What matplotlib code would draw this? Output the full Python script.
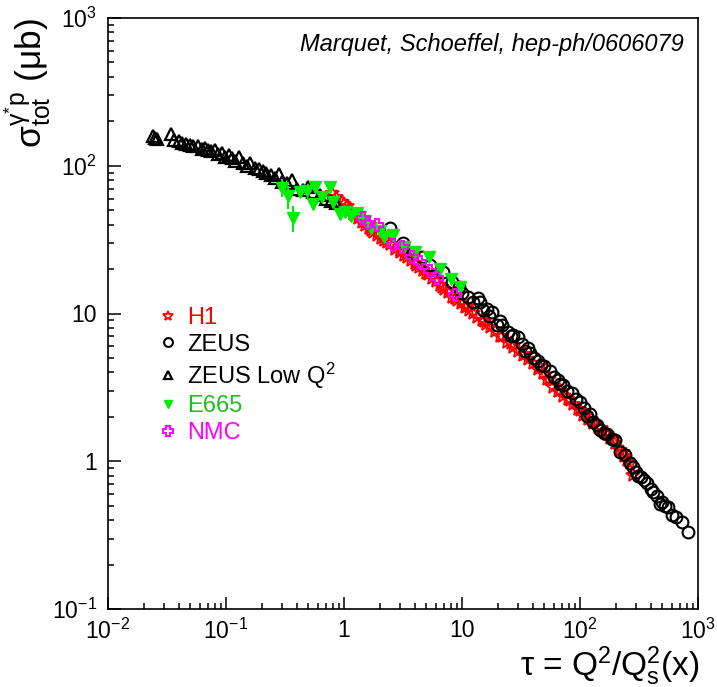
import math
import matplotlib
matplotlib.use("Agg")
import matplotlib.pyplot as plt
from matplotlib.ticker import FixedLocator, FuncFormatter, LogLocator, NullFormatter

plt.rcParams['font.family'] = ['Liberation Sans', 'DejaVu Sans']
plt.rcParams['mathtext.fontset'] = 'custom'
plt.rcParams['mathtext.rm'] = 'Liberation Sans'
plt.rcParams['mathtext.it'] = 'Liberation Sans:italic'
plt.rcParams['mathtext.bf'] = 'Liberation Sans:bold'
plt.rcParams['mathtext.sf'] = 'Liberation Sans'

# ---------------- data ----------------
h1_tau = [0.79, 0.85, 0.96, 1.0, 1.05, 1.12, 1.2, 1.32, 1.42, 1.51, 1.62, 1.7, 1.76, 1.9, 2.05,
          2.2, 2.31, 2.45, 2.7, 2.98, 3.0, 3.2, 3.42, 3.7, 4.0, 4.1, 4.3, 4.67, 5.0, 5.2, 5.57,
          6.0, 6.5, 6.8, 7.0, 7.6, 8.3, 8.8, 9.1, 9.8, 10.6, 11.0, 11.5, 12.4, 13.5, 14.8,
          15.5, 16.0, 17.3, 19.0, 21.0, 22.0, 24.0, 26.0, 27.0, 30.0, 33.0, 34.0, 36.0, 40.0,
          44.0, 45.0, 48.6, 53.0, 55.0, 59.0, 65.0, 68.0, 72.0, 79.0, 83.0, 87.0, 96.0, 100.0,
          106.0, 117.0, 125.0, 129.0, 142.0, 150.0, 157.0, 168.0, 180.0, 190.0, 198.0, 218.0,
          230.0, 235.0, 250.0, 265.0, 281.0]
h1_sig = [65, 61, 57, 55, 53, 50, 47.5, 44, 41.5, 39.5, 38, 37, 35.5, 34, 32.5,
          31.5, 30.5, 29.5, 27.5, 26, 27, 25, 24, 23, 21.8, 21.3, 20.5, 19.6, 18.7, 18.5, 17.4,
          16.5, 15.6, 15.2, 14.7, 13.9, 13.0, 12.8, 12.3, 11.7, 11.1, 11.2, 10.6, 10.1, 9.5, 9.0,
          8.9, 8.5, 8.1, 7.6, 7.05, 7.0, 6.4, 6.3, 5.9, 5.55, 5.25, 5.3, 4.9, 4.6,
          4.2, 4.4, 3.95, 3.6, 3.6, 3.2, 3.0, 3.05, 2.78, 2.62, 2.6, 2.45, 2.25, 2.24,
          2.05, 1.92, 1.93, 1.82, 1.7, 1.69, 1.6, 1.52, 1.43, 1.41, 1.32, 1.2,
          1.15, 1.09, 1.02, 0.97, 0.81]

zeus_tau = [2.45, 3.16, 3.84, 4.58, 5.36, 6.9, 8.2, 9.5, 10.0, 11.2, 12.5, 13.7, 14.2, 15.0,
            16.3, 17.0, 18.0, 19.8, 21.0, 22.0, 24.5, 26.0, 27.0, 29.9, 32.0, 34.2, 36.0, 38.0,
            41.0, 44.0, 47.0, 50.0, 55.7, 60.0, 65.0, 68.0, 72.0, 78.0, 85.5, 92.0, 100.0,
            108.0, 115.0, 122.0, 130.0, 140.0, 148.0, 160.0, 169.0, 185.0, 198.0, 218.0, 240.0,
            265.0, 281.0, 300.0, 310.0, 330.0, 350.0, 370.0, 400.0, 416.0, 450.0, 477.0, 500.0,
            525.0, 560.0, 602.0, 650.0, 731.0, 822.0]
zeus_sig = [38, 30, 25.8, 24.3, 21.4, 19.2, 16.4, 15.0, 13.8, 13.0, 12.0, 12.8, 11.9, 10.5,
            10.8, 9.6, 10.2, 8.4, 8.9, 8.3, 7.45, 7.0, 7.2, 6.9, 6.2, 5.6, 5.8, 5.4,
            5.0, 4.74, 4.5, 4.4, 4.06, 3.7, 3.52, 3.35, 3.3, 3.0, 2.88, 2.65, 2.51,
            2.3, 2.01, 2.1, 1.85, 1.75, 1.64, 1.55, 1.52, 1.42, 1.39, 1.15, 1.1,
            0.98, 0.91, 0.85, 0.79, 0.78, 0.75, 0.71, 0.65, 0.62, 0.58, 0.51, 0.53,
            0.50, 0.49, 0.43, 0.42, 0.39, 0.33]

zlow_tau = [0.024, 0.025, 0.026, 0.034, 0.036, 0.040, 0.042, 0.046, 0.050, 0.053, 0.058, 0.062,
            0.066, 0.070, 0.075, 0.080, 0.086, 0.092, 0.098, 0.105, 0.112, 0.120, 0.128, 0.138,
            0.150, 0.160, 0.175, 0.19, 0.205, 0.22, 0.24, 0.26, 0.28, 0.30, 0.33, 0.36, 0.40,
            0.45, 0.50, 0.55, 0.62, 0.70, 0.78, 0.85]
zlow_sig = [160, 155, 152, 165, 150, 148, 142, 140, 138, 135, 137, 130,
            132, 128, 125, 128, 120, 122, 115, 118, 112, 108, 115, 104,
            100, 104, 97, 95, 92, 90, 86, 82, 88, 78, 76, 80, 70,
            68, 72, 66, 63, 60, 58, 56]

e665_tau = [0.30, 0.335, 0.37, 0.42, 0.49, 0.55, 0.57, 0.65, 0.76, 0.81, 0.92, 1.02, 1.15,
            1.29, 1.36, 1.5, 1.7, 2.0, 2.2, 2.6, 3.2, 4.0, 5.3, 6.5, 8.0, 9.7]
e665_sig = [71, 62, 44.6, 66, 67, 55, 72, 61, 72, 57, 47, 49, 46,
            48, 45, 42, 38, 36, 33, 34, 28, 26, 24, 20, 17, 15]
e665_err = [10, 11, 9, 4, 4, 3, 4, 3, 3, 3, 2, 2, 2,
            2, 2, 1.5, 1.5, 1.5, 1.5, 1.5, 1, 1, 1, 1, 0.8, 0.8]

nmc_tau = [1.45, 1.6, 1.9, 2.6, 3.1, 3.8, 4.4, 5.4, 6.1, 8.7]
nmc_sig = [44, 41, 40, 29, 28, 24, 22.4, 19.5, 17.5, 13.4]

x_major = [1e-2, 1e-1, 1, 10, 1e2, 1e3]
y_major = [1e-1, 1, 10, 1e2, 1e3]

# ---------------- figure ----------------
fig = plt.figure(figsize=(7.17, 6.87), dpi=100)
ax = fig.add_axes([108/717, 1-609/687, 590/717, 591/687])
ax.set_xscale('log')
ax.set_yscale('log')
ax.set_xlim(1e-2, 1e3)
ax.set_ylim(1e-1, 1e3)

RED = '#ff0000'
GREEN = '#00ee00'
MAG = '#ff00ff'

ax.plot(h1_tau, h1_sig, ls='none', marker='*', ms=10, mfc='none', mec=RED, mew=1.3,
        label='H1', zorder=3)
ax.plot(zeus_tau, zeus_sig, ls='none', marker='o', ms=8.5, mfc='none', mec='black', mew=1.5,
        label='ZEUS', zorder=4)
ax.plot(zlow_tau, zlow_sig, ls='none', marker='^', ms=8.5, mfc='none', mec='black', mew=1.6,
        label='ZEUS Low Q$^{2}$', zorder=4)
ax.errorbar(e665_tau, e665_sig, yerr=e665_err, fmt='none', ecolor=GREEN, elinewidth=1.5,
            capsize=0, zorder=5)
ax.plot(e665_tau, e665_sig, ls='none', marker='v', ms=8.5, mfc=GREEN, mec=GREEN,
        label='E665', zorder=5)
ax.plot(nmc_tau, nmc_sig, ls='none', marker='P', ms=9, mfc='none', mec=MAG, mew=1.4,
        label='NMC', zorder=6)

# ticks
def fmt(v, pos):
    if abs(v - 1) < 1e-9:
        return '1'
    if abs(v - 10) < 1e-9:
        return '10'
    e = int(round(math.log10(v)))
    return r'$\mathregular{10^{%d}}$' % e

for axis, majors in ((ax.xaxis, x_major), (ax.yaxis, y_major)):
    axis.set_major_locator(FixedLocator(majors))
    axis.set_minor_locator(LogLocator(base=10, subs=range(2, 10), numticks=20))
    axis.set_major_formatter(FuncFormatter(fmt))
    axis.set_minor_formatter(NullFormatter())

ax.tick_params(which='both', direction='in', top=False, right=False, width=1.1,
               labelsize=16.5, colors='black')
ax.tick_params(which='major', length=9)
ax.tick_params(which='minor', length=4.5)
ax.tick_params(axis='y', pad=8)
ax.tick_params(axis='x', pad=7)
for s in ax.spines.values():
    s.set_linewidth(1.2)

ax.set_ylabel(r'σ$^{\mathrm{γ^{*}p}}_{\mathrm{tot}}$ (μb)', fontsize=25.5, loc='top')
ax.yaxis.set_label_coords(-0.093, 1.0)
ax.set_xlabel(r'τ = Q$^{2}$/Q$^{2}_{\mathrm{s}}$(x)', fontsize=24, loc='right')
ax.xaxis.set_label_coords(1.003, -0.06)

ax.text(0.975, 0.975, 'Marquet, Schoeffel, hep-ph/0606079', transform=ax.transAxes,
        ha='right', va='top', fontsize=17, style='italic')

leg = ax.legend(loc='upper left', bbox_to_anchor=(0.086, 0.511), frameon=False,
                fontsize=17, handlelength=0.8, handletextpad=0.4, labelspacing=0.2,
                markerscale=0.75, borderaxespad=0, borderpad=0)
for txt, c in zip(leg.get_texts(), [RED, 'black', 'black', '#22bb22', MAG]):
    txt.set_color(c)

fig.savefig('out.png', dpi=100)
